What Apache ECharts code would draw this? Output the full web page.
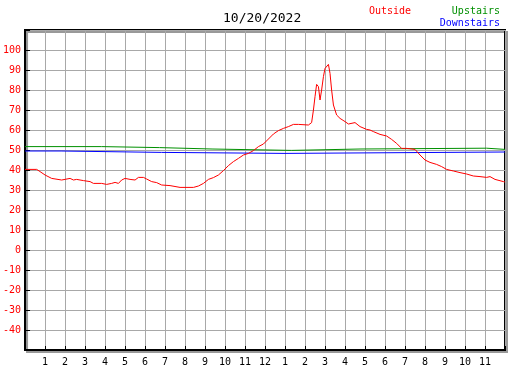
<!DOCTYPE html>
<html>
<head>
<meta charset="utf-8">
<script src="https://cdn.jsdelivr.net/npm/echarts@6/dist/echarts.min.js"></script>
<style>
  html, body { margin: 0; padding: 0; background: #fff; }
  #chart { width: 527px; height: 370px; }
</style>
</head>
<body>
<div id="chart"></div>
<script>
// hour labels along the bottom (0 .. 24)
var hourLabels = ['', '1', '2', '3', '4', '5', '6', '7', '8', '9', '10', '11', '12',
                  '1', '2', '3', '4', '5', '6', '7', '8', '9', '10', '11', ''];

// outside temperature
var outsideHours = [0, 0.58, 0.75, 1.0, 1.33, 1.83, 2.25, 2.42, 2.58, 2.92,
  3.25, 3.42, 3.83, 4.08, 4.33, 4.5, 4.67, 4.83, 5.0, 5.25,
  5.5, 5.67, 5.92, 6.08, 6.33, 6.58, 6.83, 7.25, 7.75, 8.42,
  8.67, 8.92, 9.17, 9.42, 9.67, 9.92, 10.17, 10.42, 10.67, 10.92,
  11.17, 11.42, 11.67, 11.92, 12.17, 12.42, 12.67, 12.92, 13.17, 13.42,
  13.67, 14.17, 14.33, 14.42, 14.5, 14.58, 14.67, 14.75, 14.83, 14.92,
  15.0, 15.17, 15.25, 15.33, 15.42, 15.58, 15.75, 16.0, 16.17, 16.5,
  16.75, 17.08, 17.25, 17.42, 17.75, 18.08, 18.33, 18.58, 18.83, 19.08,
  19.5, 19.75, 20.0, 20.25, 20.58, 20.83, 21.08, 21.42, 21.75, 22.08,
  22.42, 22.75, 23.08, 23.25, 23.5, 23.92, 24];
var outsideTemps = [40.3, 40.3, 39.2, 37.5, 35.8, 35, 35.8, 35, 35.3, 34.7,
  34.2, 33.3, 33.3, 32.8, 33.3, 33.8, 33.3, 35, 35.8, 35.3,
  35, 36.3, 36.3, 35.5, 34.2, 33.7, 32.5, 32.2, 31.3, 31.3,
  32, 33.3, 35.3, 36.2, 37.5, 39.7, 42.2, 44.2, 45.8, 47.5,
  48.3, 49.7, 51.7, 53, 55.5, 58, 59.7, 60.8, 61.7, 62.8,
  62.8, 62.5, 63.7, 70, 76.7, 82.8, 81.7, 75, 80, 86.7,
  90.8, 92.8, 88.3, 80, 72.5, 67.5, 65.8, 64.2, 63, 63.7,
  61.7, 60.3, 60, 59.2, 57.8, 57, 55.3, 53.3, 50.8, 50.8,
  50.3, 47.5, 45, 43.8, 42.8, 41.7, 40.3, 39.5, 38.7, 38,
  37, 36.7, 36.3, 36.7, 35.3, 34.2, 34];

// upstairs (steps)
var upHours = [0, 3.83, 6.72, 9.35, 13.33, 16.75, 23.08, 24];
var upTemps = [51.7, 51.2, 50.5, 49.8, 50.5, 50.9, 50.3, 50.3];

// downstairs (steps)
var downHours = [0, 1.8, 6.83, 13.0, 24];
var downTemps = [49.5, 48.8, 48.3, 49.0, 49.0];

function pairs(xs, ys) {
  var out = [];
  for (var i = 0; i < xs.length; i++) {
    out.push([xs[i], ys[i]]);
  }
  return out;
}

var mono = 'DejaVu Sans Mono';
var myChart = echarts.init(document.getElementById('chart'));

var options = {
  animation: false,
  backgroundColor: '#fff',
  title: [
    { text: '10/20/2022', left: 223, top: 12, padding: 0,
      textStyle: { fontFamily: mono, fontSize: 13, fontWeight: 'normal', color: '#000' } },
    { text: 'Outside', left: 369, top: 6, padding: 0,
      textStyle: { fontFamily: mono, fontSize: 10, fontWeight: 'normal', color: '#ff0000' } },
    { text: 'Upstairs', right: 27, top: 6, padding: 0,
      textStyle: { fontFamily: mono, fontSize: 10, fontWeight: 'normal', color: '#009000' } },
    { text: 'Downstairs', right: 27, top: 18, padding: 0,
      textStyle: { fontFamily: mono, fontSize: 10, fontWeight: 'normal', color: '#0000ff' } }
  ],
  grid: {
    left: 25, top: 30, width: 480, height: 320,
    show: true,
    backgroundColor: '#fff',
    borderColor: '#000',
    borderWidth: 2,
    shadowColor: '#999',
    shadowBlur: 0,
    shadowOffsetX: 2,
    shadowOffsetY: 2
  },
  xAxis: {
    type: 'value',
    min: 0, max: 24, interval: 1,
    axisLine: { onZero: false, lineStyle: { color: '#000', width: 2 } },
    axisTick: { inside: true, length: 4, lineStyle: { color: '#000' } },
    axisLabel: {
      margin: 7, color: '#000', fontFamily: mono, fontSize: 10,
      formatter: function(v) { return hourLabels[Math.round(v)] || ''; }
    },
    splitLine: { show: true, lineStyle: { color: '#a8a8a8', width: 1 } }
  },
  yAxis: {
    type: 'value',
    min: -50, max: 110, interval: 10,
    axisLine: { show: true, onZero: false, lineStyle: { color: '#000', width: 2 } },
    axisTick: { show: true, inside: true, length: 5, lineStyle: { color: '#000' } },
    axisLabel: {
      margin: 4, color: '#ff0000', fontFamily: mono, fontSize: 10,
      formatter: function(v) { return (v < -40 || v > 100) ? '' : String(v); }
    },
    splitLine: { show: true, lineStyle: { color: '#a8a8a8', width: 1 } }
  },
  series: [
    {
      name: 'Upstairs', type: 'line', step: 'end', symbol: 'none',
      lineStyle: { color: '#009000', width: 1 },
      data: pairs(upHours, upTemps)
    },
    {
      name: 'Downstairs', type: 'line', step: 'end', symbol: 'none',
      lineStyle: { color: '#0000ff', width: 1 },
      data: pairs(downHours, downTemps)
    },
    {
      name: 'Outside', type: 'line', symbol: 'none',
      lineStyle: { color: '#ff0000', width: 1 },
      data: pairs(outsideHours, outsideTemps)
    }
  ]
};
myChart.setOption(options);
</script>
</body>
</html>
